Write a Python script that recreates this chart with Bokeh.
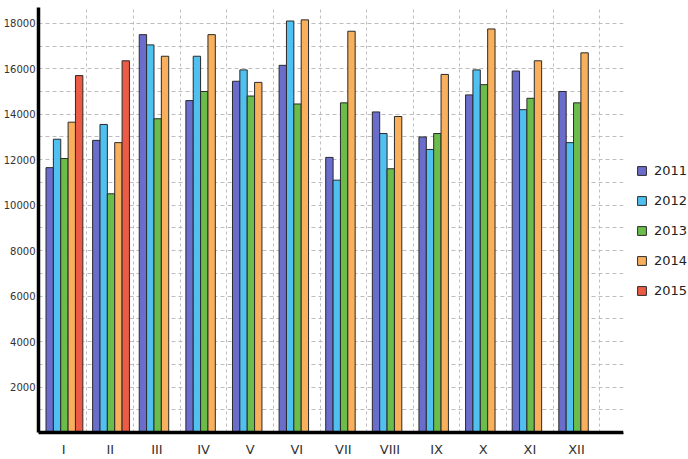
import numpy as np
from bokeh.plotting import figure
from bokeh.models import FixedTicker, Legend, LegendItem, Range1d, ColumnDataSource, BoxAnnotation
from bokeh.embed import file_html
from bokeh.resources import INLINE

# ---- data ----
months = ["I", "II", "III", "IV", "V", "VI", "VII", "VIII", "IX", "X", "XI", "XII"]
years = ["2011", "2012", "2013", "2014", "2015"]
v2011 = [11650, 12850, 17500, 14600, 15450, 16150, 12100, 14100, 13000, 14850, 15900, 15000]
v2012 = [12900, 13550, 17050, 16550, 15950, 18100, 11100, 13150, 12450, 15950, 14200, 12750]
v2013 = [12050, 10500, 13800, 15000, 14800, 14450, 14500, 11600, 13150, 15300, 14700, 14500]
v2014 = [13650, 12750, 16550, 17500, 15400, 18150, 17650, 13900, 15750, 17750, 16350, 16700]
v2015 = [15700, 16350]
y_ticks = [2000, 4000, 6000, 8000, 10000, 12000, 14000, 16000, 18000]

series = [v2011, v2012, v2013, v2014, v2015]
colors = ["#6a6dcc", "#4fc0ef", "#6bbd4b", "#f8b05c", "#eb5b45"]

# ---- layout constants ----
BAR_W = 0.158
OFF0 = 0.2
X0, X_AXIS_END, X1 = -0.04, 12.51, 13.903

p = figure(width=688, height=459,
           x_range=Range1d(X0, X1), y_range=Range1d(0, 18694),
           output_backend="svg", toolbar_location=None,
           min_border_left=36, min_border_right=0, min_border_top=7, min_border_bottom=26)
p.outline_line_color = None
p.background_fill_color = "white"
p.border_fill_color = "white"

renderers = []
for k, (vals, col) in enumerate(zip(series, colors)):
    idx = np.arange(len(vals))
    src = ColumnDataSource(dict(x=idx + OFF0 + BAR_W * k, top=vals,
                                month=months[:len(vals)]))
    r = p.vbar(x="x", top="top", bottom=0, width=BAR_W, source=src,
               fill_color=col, line_color="#2a2a2a", line_width=1)
    renderers.append(r)

# axes
p.xaxis.ticker = FixedTicker(ticks=[i + 0.5 for i in range(12)])
p.xaxis.major_label_overrides = {i + 0.5: m for i, m in enumerate(months)}
p.xaxis.bounds = (X0, X_AXIS_END)
p.yaxis.ticker = FixedTicker(ticks=y_ticks)
for ax in (p.xaxis[0], p.yaxis[0]):
    ax.axis_line_color = "black"
    ax.axis_line_width = 3.5
    ax.major_tick_line_color = None
    ax.minor_tick_line_color = None
    ax.major_tick_out = 0
    ax.major_tick_in = 0
    ax.major_label_text_font = "DejaVu Sans"
    ax.major_label_text_color = "#333333"
p.yaxis.major_label_text_font_size = "10px"
p.yaxis.major_label_standoff = 3
p.xaxis.major_label_text_font_size = "13px"
p.xaxis.major_label_standoff = 9

# grids
p.xgrid.ticker = FixedTicker(ticks=list(range(1, 13)))
p.xgrid.grid_line_color = "#bdbdbd"
p.xgrid.grid_line_dash = "3 3"
p.xgrid.grid_line_width = 1
p.ygrid.ticker = FixedTicker(ticks=list(range(1000, 18001, 1000)))
p.ygrid.grid_line_color = "#bdbdbd"
p.ygrid.grid_line_dash = "4 3"
p.ygrid.grid_line_width = 1

# white area to the right of the plotting region (legend area)
p.add_layout(BoxAnnotation(left=X_AXIS_END, fill_color="white", fill_alpha=1.0,
                           line_color=None))

legend = Legend(items=[LegendItem(label=y, renderers=[r]) for y, r in zip(years, renderers)],
                location=(598, 134), orientation="vertical",
                border_line_color=None, background_fill_alpha=0,
                padding=0, margin=0, glyph_width=11, glyph_height=11,
                label_standoff=7, spacing=15, label_height=12,
                label_text_font_size="13px", label_text_font="DejaVu Sans",
                label_text_color="#222222")
p.add_layout(legend)

open("out.html", "w").write(file_html(p, INLINE))
